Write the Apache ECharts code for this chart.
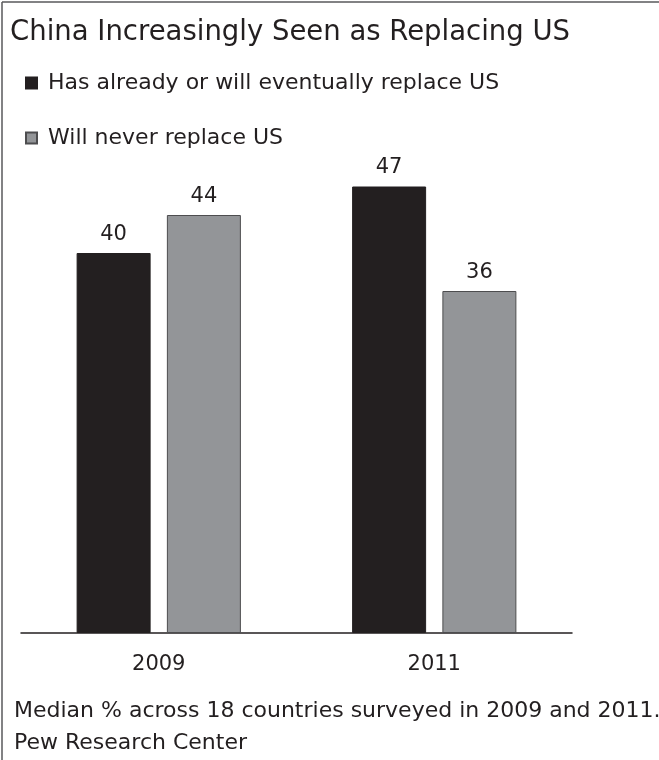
<!DOCTYPE html>
<html>
<head>
<meta charset="utf-8">
<script src="https://cdn.jsdelivr.net/npm/echarts@6/dist/echarts.min.js"></script>
<style>
    html, body { margin: 0; padding: 0; background: #fff; }
    #chart { width: 659px; height: 760px; }
</style>
</head>
<body>
<div id="chart"></div>
<script>
const years = ['2009', '2011'];
const replaceValues = [40, 47];
const neverValues = [44, 36];
const seriesNames = ['Has already or will eventually replace US', 'Will never replace US'];

const textColor = '#231f20';
const font = 'DejaVu Sans';

const option = {
    animation: false,
    textStyle: { fontFamily: font, color: textColor },
    title: [
        {
            text: 'China Increasingly Seen as Replacing US',
            left: 5,
            top: 14,
            textStyle: { fontFamily: font, fontSize: 27.5, fontWeight: 'normal', color: textColor }
        },
        {
            text: 'Median % across 18 countries surveyed in 2009 and 2011.',
            left: 9,
            top: 695,
            textStyle: { fontFamily: font, fontSize: 22, fontWeight: 'normal', color: textColor }
        },
        {
            text: 'Pew Research Center',
            left: 9,
            top: 727,
            textStyle: { fontFamily: font, fontSize: 22, fontWeight: 'normal', color: textColor }
        }
    ],
    legend: {
        orient: 'vertical',
        left: 20,
        top: 67,
        itemWidth: 11,
        itemHeight: 11,
        itemGap: 33,
        icon: 'rect',
        textStyle: { fontFamily: font, fontSize: 22, color: textColor, padding: [0, 0, 0, 6] },
        data: seriesNames
    },
    grid: { left: 21, right: 87, top: 158, bottom: 127 },
    xAxis: {
        type: 'category',
        data: years,
        axisLine: { lineStyle: { color: textColor, width: 1.5 } },
        axisTick: { show: false },
        axisLabel: { fontFamily: font, fontSize: 21, color: textColor, margin: 21 }
    },
    yAxis: {
        type: 'value',
        min: 0,
        max: 50,
        show: false,
        splitLine: { show: false }
    },
    graphic: [
        { type: 'line', shape: { x1: 2, y1: 2, x2: 659, y2: 2 }, style: { stroke: '#58595b', lineWidth: 1.5 } },
        { type: 'line', shape: { x1: 2, y1: 2, x2: 2, y2: 760 }, style: { stroke: '#58595b', lineWidth: 1.5 } }
    ],
    series: [
        {
            name: seriesNames[0],
            type: 'bar',
            data: replaceValues,
            barWidth: 74,
            barGap: '22%',
            itemStyle: { color: '#231f20', borderColor: '#231f20', borderWidth: 1 },
            label: { show: true, position: 'top', distance: 8, fontFamily: font, fontSize: 21, color: textColor }
        },
        {
            name: seriesNames[1],
            type: 'bar',
            data: neverValues,
            barWidth: 74,
            barGap: '22%',
            itemStyle: { color: '#939598', borderColor: '#4d4d4f', borderWidth: 1 },
            label: { show: true, position: 'top', distance: 8, fontFamily: font, fontSize: 21, color: textColor }
        }
    ]
};

const chart = echarts.init(document.getElementById('chart'));
chart.setOption(option);
window.addEventListener('resize', function () {
    chart.resize();
});
</script>
</body>
</html>
